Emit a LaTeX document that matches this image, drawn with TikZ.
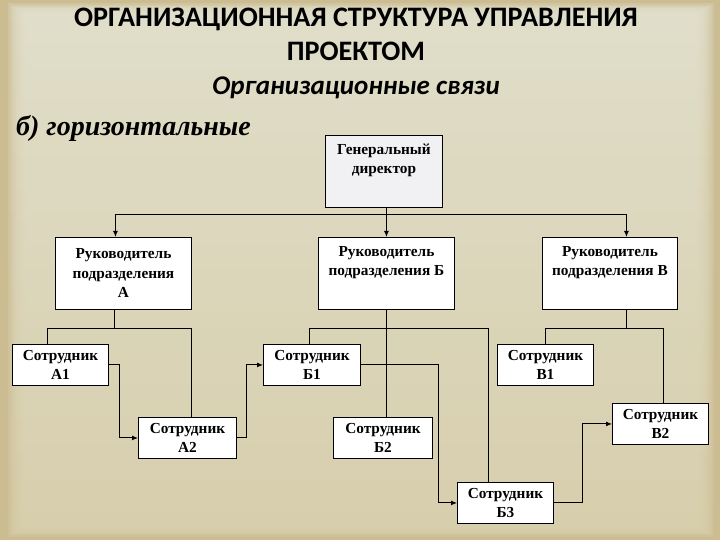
\documentclass[tikz,border=0pt]{standalone}
\usepackage{fontspec}
\setmainfont{Liberation Serif}
\newfontfamily\headfont{Carlito}
\usetikzlibrary{arrows.meta, positioning}
\definecolor{frametan}{HTML}{CBBC92}
\definecolor{paneltop}{HTML}{E4E2D0}
\definecolor{panelbot}{HTML}{DBD2B0}
\definecolor{dirfill}{HTML}{F1F1F4}
\tikzset{
	unit/.style={draw, line width=0.9pt, fill=white, anchor=north west, inner sep=0pt,
		align=center, font=\fontsize{15.3}{19.5}\selectfont\bfseries}
}
\tikzset{
	link/.style={line width=1pt},
	arr/.style={line width=1pt, -{Latex[length=6pt,width=5pt]}}
}

\begin{document}
\begin{tikzpicture}[x=1pt, y=-1pt]
      \useasboundingbox (0,0) rectangle (720,540);
      % background panel
      \fill[frametan] (0,0) rectangle (720,540);
      \foreach \i in {0,...,9}
        \shade[top color=paneltop, bottom color=panelbot, opacity=0.24]
          (8+2*\i,4+1.2*\i) rectangle (714-2*\i,536-1.2*\i);
      % headings
      \node[font=\headfont\fontsize{28.2}{34}\selectfont\bfseries, align=center, anchor=north, inner sep=0pt]
        (title) at (356,8) {ОРГАНИЗАЦИОННАЯ СТРУКТУРА УПРАВЛЕНИЯ\\ПРОЕКТОМ};
      \node[font=\headfont\fontsize{27}{30}\selectfont\bfseries\itshape, anchor=base, inner sep=0pt]
        (subtitle) at (356,95) {Организационные связи};
      \node[font=\fontsize{28}{32}\selectfont\bfseries\itshape, anchor=base west, inner sep=0pt]
        (kind) at (16,136) {б) горизонтальные};
      % boxes
      \node[unit, fill=dirfill, minimum width=117, minimum height=72] (gd) at (325,135) {Генеральный\\директор\\\strut};
      \node[unit, minimum width=136, minimum height=72] (ra) at (55,237) {Руководитель\\подразделения\\А};
      \node[unit, minimum width=136, minimum height=72] (rb) at (318,237) {Руководитель\\подразделения Б\\\strut};
      \node[unit, minimum width=135, minimum height=72] (rv) at (542,237) {Руководитель\\подразделения В\\\strut};
      \node[unit, minimum width=96, minimum height=41] (a1) at (12,344) {Сотрудник\\А1};
      \node[unit, minimum width=98, minimum height=41] (a2) at (138,417) {Сотрудник\\А2};
      \node[unit, minimum width=97, minimum height=41] (b1) at (263,344) {Сотрудник\\Б1};
      \node[unit, minimum width=99, minimum height=41] (b2) at (333,417) {Сотрудник\\Б2};
      \node[unit, minimum width=96, minimum height=41] (b3) at (457,482) {Сотрудник\\Б3};
      \node[unit, minimum width=96, minimum height=41] (v1) at (497,344) {Сотрудник\\В1};
      \node[unit, minimum width=96, minimum height=41] (v2) at (612,403) {Сотрудник\\В2};
      % director to heads
      \draw[link] ([xshift=2.5pt]gd.south) -- ++(0,7) coordinate (jg);
      \draw[arr] (jg) -| ([xshift=-8pt]ra.north);
      \draw[arr] (jg) -- (rb.north);
      \draw[arr] (jg) -| ([xshift=16.5pt]rv.north);
      % heads to staff
      \draw[link] ([xshift=-9pt]ra.south) -- ++(0,19) coordinate (ja);
      \draw[link] ([xshift=-13pt]a1.north) |- (ja) -| ([xshift=4pt]a2.north);
      \draw[link] (rb.south) -- ++(0,19) coordinate (jb);
      \draw[link] ([xshift=-2.5pt]b1.north) |- (jb) -| ([xshift=-17pt]b3.north);
      \draw[link] (jb) -- ([xshift=3.5pt]b2.north);
      \draw[link] ([xshift=16.5pt]rv.south) -- ++(0,19) coordinate (jv);
      \draw[link] (v1.north) |- (jv) -| ([xshift=3pt]v2.north);
      % horizontal links
      \draw[arr] (a1.east) -- ++(11,0) |- (a2.west);
      \draw[arr] (a2.east) -- ++(10,0) |- (b1.west);
      \draw[arr] (b1.east) -- ++(78,0) |- (b3.west);
      \draw[arr] (b3.east) -- ++(29,0) |- (v2.west);
    \end{tikzpicture}
\end{document}
